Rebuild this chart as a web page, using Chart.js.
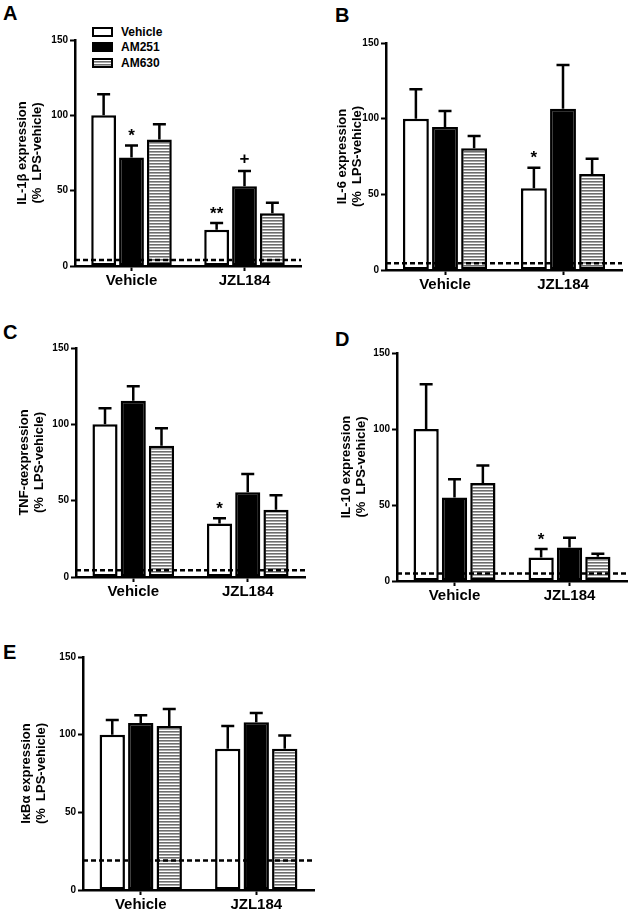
<!DOCTYPE html>
<html><head><meta charset="utf-8">
<script src="https://cdn.jsdelivr.net/npm/chart.js@4.4.0/dist/chart.umd.min.js"></script>
<style>
body{margin:0;width:629px;height:914px;background:#fff;position:relative;overflow:hidden;font-family:'Liberation Sans',Arial,sans-serif;color:#000;}
canvas{position:absolute;}
.lbl{position:absolute;font-weight:bold;font-size:20px;line-height:20px;}
.legrow{position:absolute;left:92px;height:10px;display:flex;align-items:center;}
.sw{width:21px;height:10px;box-sizing:border-box;border:2px solid #000;margin-right:8px;}
.legrow span{font-weight:bold;font-size:12px;line-height:12px;}
</style></head><body>
<div class="lbl" style="left:3px;top:3px">A</div>
<div class="lbl" style="left:335px;top:5px">B</div>
<div class="lbl" style="left:3px;top:322px">C</div>
<div class="lbl" style="left:335px;top:329px">D</div>
<div class="lbl" style="left:3px;top:642px">E</div>
<div id="legend"></div>
<canvas id="cA"></canvas><canvas id="cB"></canvas><canvas id="cC"></canvas><canvas id="cD"></canvas><canvas id="cE"></canvas>
<script>
// ---- data ----
const groups = ['Vehicle', 'JZL184'];
const seriesNames = ['Vehicle', 'AM251', 'AM630'];
const yTicks = [0, 50, 100, 150];

// A: IL-1beta
const il1bVehicle = [100, 24];
const il1bAM251 = [72, 53];
const il1bAM630 = [84, 35];
const il1bVehicleSem = [14, 4.5];
const il1bAM251Sem = [8, 10];
const il1bAM630Sem = [10, 7];
const il1bVehicleMark = ['', '**'];
const il1bAM251Mark = ['*', '+'];
const il1bAM630Mark = ['', ''];
const il1bBaseline = 4;

// B: IL-6
const il6Vehicle = [100, 54];
const il6AM251 = [94.5, 106.5];
const il6AM630 = [80.5, 63.5];
const il6VehicleSem = [19.5, 13.5];
const il6AM251Sem = [10.5, 29];
const il6AM630Sem = [8, 10];
const il6VehicleMark = ['', '*'];
const il6AM251Mark = ['', ''];
const il6AM630Mark = ['', ''];
const il6Baseline = 4.5;

// C: TNF-alpha
const tnfVehicle = [100, 35];
const tnfAM251 = [115.5, 55.5];
const tnfAM630 = [86, 44];
const tnfVehicleSem = [10.5, 3.5];
const tnfAM251Sem = [9.5, 12];
const tnfAM630Sem = [11.5, 9.5];
const tnfVehicleMark = ['', '*'];
const tnfAM251Mark = ['', ''];
const tnfAM630Mark = ['', ''];
const tnfBaseline = 4.5;

// D: IL-10
const il10Vehicle = [100, 15.5];
const il10AM251 = [55, 22];
const il10AM630 = [64.5, 16];
const il10VehicleSem = [29.5, 5.5];
const il10AM251Sem = [12, 6.5];
const il10AM630Sem = [11.5, 2];
const il10VehicleMark = ['', '*'];
const il10AM251Mark = ['', ''];
const il10AM630Mark = ['', ''];
const il10Baseline = 5;

// E: IkBalpha
const ikbVehicle = [100, 91];
const ikbAM251 = [107.5, 108];
const ikbAM630 = [105.5, 91];
const ikbVehicleSem = [9.5, 14.5];
const ikbAM251Sem = [5, 6];
const ikbAM630Sem = [11, 8.5];
const ikbVehicleMark = ['', ''];
const ikbAM251Mark = ['', ''];
const ikbAM630Mark = ['', ''];
const ikbBaseline = 19;

// ---- styles ----
const FONT = "'Liberation Sans', Arial, sans-serif";
Chart.defaults.font.family = FONT;
Chart.defaults.color = '#000';
const LW = 2.5;

function stripePattern(ctx) {
  const c = document.createElement('canvas');
  c.width = 4; c.height = 3;
  const x = c.getContext('2d');
  x.fillStyle = '#ffffff'; x.fillRect(0, 0, 4, 3);
  x.fillStyle = '#6e6e6e'; x.fillRect(0, 1, 4, 1);
  x.fillStyle = '#a8a8a8'; x.fillRect(0, 2, 4, 1);
  return ctx.createPattern(c, 'repeat');
}

// legend
(function () {
  const leg = document.getElementById('legend');
  const tops = [27, 42, 58];
  const bg = ['#fff', '#000', 'repeating-linear-gradient(to bottom,#fff 0px,#fff 1px,#6e6e6e 1px,#6e6e6e 2px,#a8a8a8 2px,#a8a8a8 3px)'];
  seriesNames.forEach((n, i) => {
    const r = document.createElement('div');
    r.className = 'legrow';
    r.style.top = tops[i] + 'px';
    const sw = document.createElement('div');
    sw.className = 'sw';
    sw.style.background = bg[i];
    const t = document.createElement('span');
    t.textContent = n;
    r.appendChild(sw); r.appendChild(t);
    leg.appendChild(r);
  });
})();

const errPlugin = {
  id: 'errs',
  afterDatasetsDraw(chart, args, opts) {
    const ctx = chart.ctx, y = chart.scales.y, ca = chart.chartArea;
    ctx.save();
    ctx.strokeStyle = '#000';
    ctx.lineWidth = LW;
    // dashed baseline
    const yy = y.getPixelForValue(opts.baseline);
    ctx.setLineDash([5, 3]);
    ctx.beginPath(); ctx.moveTo(ca.left, yy); ctx.lineTo(ca.right, yy); ctx.stroke();
    ctx.setLineDash([]);
    chart.data.datasets.forEach((ds, i) => {
      const meta = chart.getDatasetMeta(i);
      meta.data.forEach((bar, j) => {
        const yt = y.getPixelForValue(ds.data[j] + ds.sem[j]);
        ctx.beginPath();
        ctx.moveTo(bar.x, bar.y); ctx.lineTo(bar.x, yt);
        ctx.moveTo(bar.x - 6.5, yt); ctx.lineTo(bar.x + 6.5, yt);
        ctx.stroke();
        const m = ds.marks[j];
        if (m) {
          ctx.font = 'bold 17px ' + FONT;
          ctx.fillStyle = '#000';
          ctx.textAlign = 'center';
          ctx.textBaseline = 'alphabetic';
          const mm = ctx.measureText(m);
          const c = (mm.actualBoundingBoxAscent - mm.actualBoundingBoxDescent) / 2;
          ctx.fillText(m, bar.x, yt - 13 + c);
        }
      });
    });
    ctx.restore();
  }
};

function makePanel(id, geo, titleLines, vals, sems, marks, baseline) {
  const cv = document.getElementById(id);
  cv.width = geo.w; cv.height = geo.h;
  cv.style.left = geo.x + 'px'; cv.style.top = geo.y + 'px';
  cv.style.width = geo.w + 'px'; cv.style.height = geo.h + 'px';
  const ctx = cv.getContext('2d');
  const yw = geo.al - geo.x;
  const xh = geo.xh;
  const padTop = geo.at - geo.y;
  const padRight = geo.x + geo.w - geo.ar;
  const padBottom = geo.y + geo.h - geo.ab - xh;
  const fills = ['#ffffff', '#000000', stripePattern(ctx)];
  new Chart(ctx, {
    type: 'bar',
    data: {
      labels: groups,
      datasets: seriesNames.map((n, i) => ({
        label: n,
        data: vals[i],
        sem: sems[i],
        marks: marks[i],
        backgroundColor: fills[i],
        borderColor: '#000',
        borderWidth: LW,
        borderSkipped: false,
        barPercentage: 0.89,
        categoryPercentage: 0.74
      }))
    },
    options: {
      responsive: false,
      animation: false,
      layout: { padding: { left: 0, top: padTop, right: padRight, bottom: padBottom } },
      plugins: { legend: { display: false }, tooltip: { enabled: false }, errs: { baseline: baseline } },
      scales: {
        x: {
          offset: true,
          grid: { display: true, drawOnChartArea: false, offset: false, tickLength: 5, tickWidth: 2, color: '#000' },
          border: { display: true, width: LW, color: '#000' },
          ticks: { font: { size: 15, weight: 'bold' }, color: '#000', padding: 1, maxRotation: 0 },
          afterFit: s => { s.height = xh; }
        },
        y: {
          min: 0, max: 150,
          afterBuildTicks: s => { s.ticks = yTicks.map(v => ({ value: v })); },
          ticks: { font: { size: 10, weight: 'bold' }, color: '#000', padding: 2 },
          grid: { drawOnChartArea: false, tickLength: 5, tickWidth: 2, color: '#000' },
          border: { display: true, width: LW, color: '#000' },
          title: { display: true, text: titleLines, color: '#000',
                   font: { size: 13, weight: 'bold', lineHeight: 1.15 },
                   padding: { top: geo.tp, bottom: 0 } },
          afterFit: s => { s.width = yw; }
        }
      }
    },
    plugins: [errPlugin]
  });
}

makePanel('cA', { x: 0, y: 0, w: 310, h: 300, al: 75, at: 40, ar: 301, ab: 266, xh: 28, tp: 15 },
  ['IL-1β expression', '(%  LPS-vehicle)'],
  [il1bVehicle, il1bAM251, il1bAM630], [il1bVehicleSem, il1bAM251Sem, il1bAM630Sem],
  [il1bVehicleMark, il1bAM251Mark, il1bAM630Mark], il1bBaseline);

makePanel('cB', { x: 310, y: 0, w: 319, h: 300, al: 386, at: 43, ar: 622, ab: 270, xh: 28, tp: 25 },
  ['IL-6 expression', '(%  LPS-vehicle)'],
  [il6Vehicle, il6AM251, il6AM630], [il6VehicleSem, il6AM251Sem, il6AM630Sem],
  [il6VehicleMark, il6AM251Mark, il6AM630Mark], il6Baseline);

makePanel('cC', { x: 0, y: 300, w: 310, h: 310, al: 76, at: 348, ar: 305, ab: 577, xh: 26, tp: 17 },
  ['TNF-αexpression', '(%  LPS-vehicle)'],
  [tnfVehicle, tnfAM251, tnfAM630], [tnfVehicleSem, tnfAM251Sem, tnfAM630Sem],
  [tnfVehicleMark, tnfAM251Mark, tnfAM630Mark], tnfBaseline);

makePanel('cD', { x: 310, y: 300, w: 319, h: 310, al: 397, at: 353, ar: 627, ab: 581, xh: 26, tp: 29 },
  ['IL-10 expression', '(%  LPS-vehicle)'],
  [il10Vehicle, il10AM251, il10AM630], [il10VehicleSem, il10AM251Sem, il10AM630Sem],
  [il10VehicleMark, il10AM251Mark, il10AM630Mark], il10Baseline);

makePanel('cE', { x: 0, y: 610, w: 350, h: 304, al: 83, at: 657, ar: 314, ab: 890, xh: 24, tp: 19 },
  ['IκBα expression', '(%  LPS-vehicle)'],
  [ikbVehicle, ikbAM251, ikbAM630], [ikbVehicleSem, ikbAM251Sem, ikbAM630Sem],
  [ikbVehicleMark, ikbAM251Mark, ikbAM630Mark], ikbBaseline);
</script>
</body></html>
